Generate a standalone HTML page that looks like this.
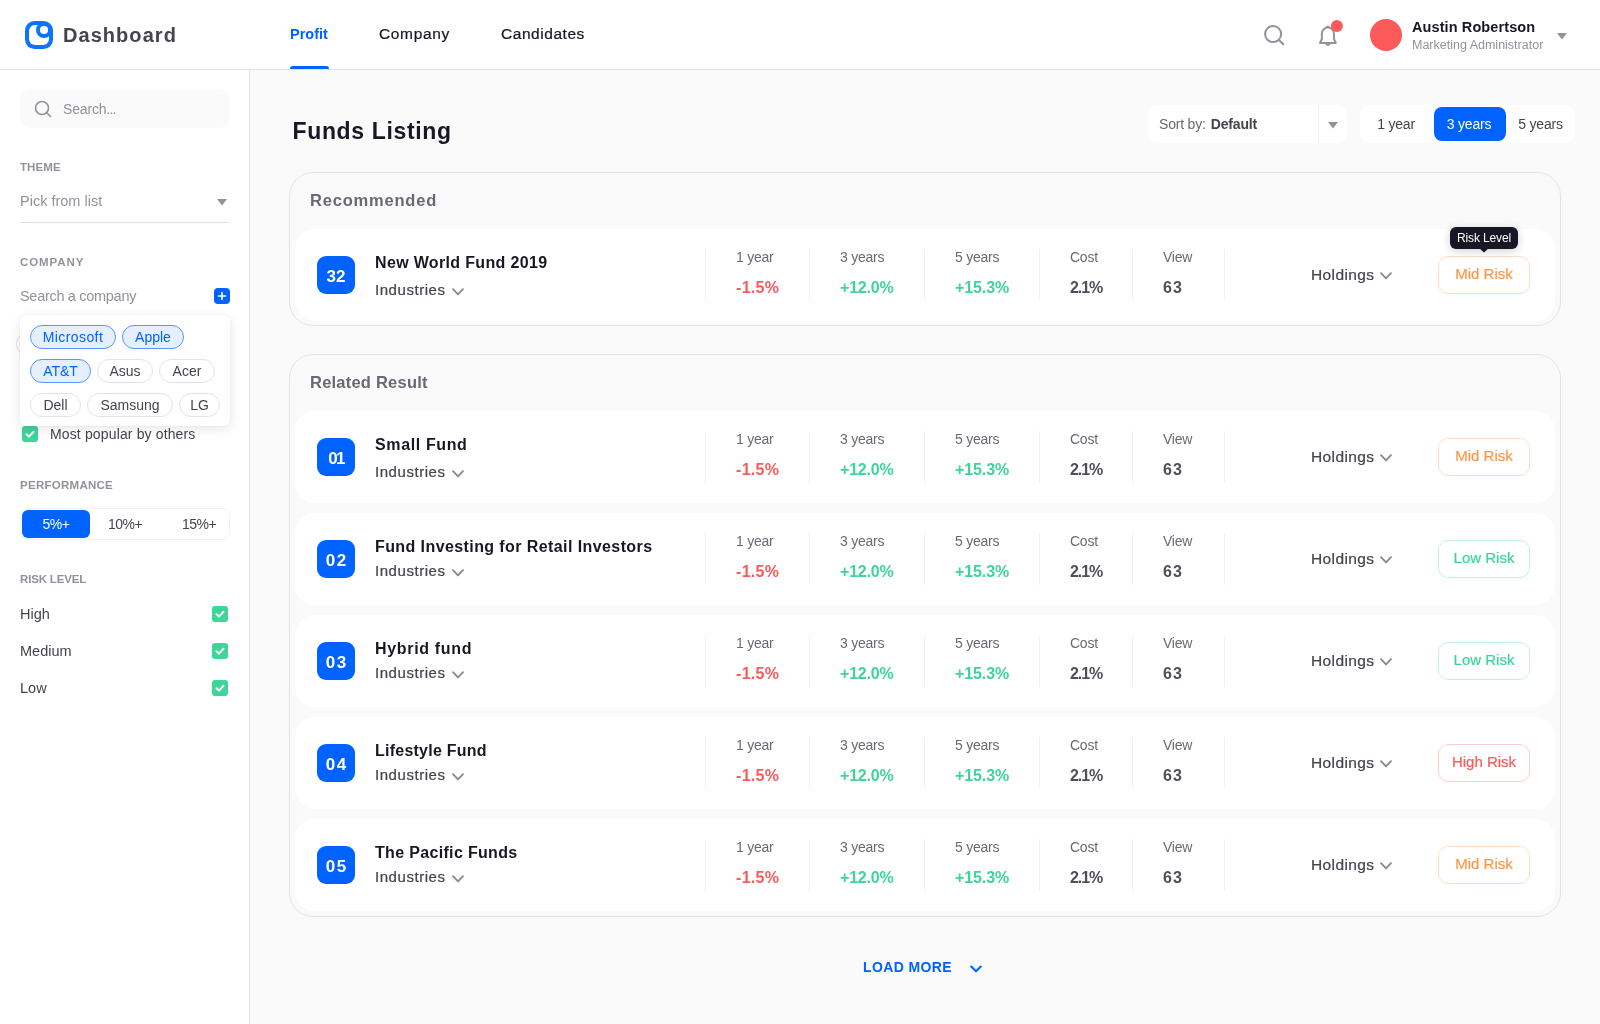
<!DOCTYPE html>
<html lang="en">
<head>
<meta charset="utf-8">
<title>Dashboard - Funds Listing</title>
<style>
*{box-sizing:border-box;margin:0;padding:0}
html,body{width:1600px;height:1024px;overflow:hidden}
body{position:relative;will-change:transform;background:#fafafb;font-family:"Liberation Sans",sans-serif;color:#171725}
.t{position:absolute;white-space:nowrap;line-height:20px;height:20px}
.m{-webkit-text-stroke:.22px currentColor}
#header{position:absolute;left:0;top:0;width:1600px;height:70px;background:#fff;border-bottom:1px solid #e2e2ea}
#sidebar{position:absolute;left:0;top:70px;width:250px;height:954px;background:#fff;border-right:1px solid #e2e2ea}
.lbl{font-size:11.5px;font-weight:700;color:#92929d}
.pill{position:absolute;height:24px;border:1px solid #e2e2ea;border-radius:12px;background:#fff;color:#44444f;font-size:14px;line-height:22.600px;text-align:center;white-space:nowrap}
.pill.on{background:#e6efff;border-color:#5b96ff;color:#0062ff}
.cb{position:absolute;width:16px;height:16px;border-radius:3px;background:#3dd598}
.cb svg{position:absolute;left:0;top:0}
.panel{position:absolute;left:289px;width:1272px;border:1px solid #e2e2ea;border-radius:24px;background:#fafafb}
.card{position:absolute;left:5px;width:1260px;height:92px;background:#fff;border-radius:20px}
.badge{position:absolute;left:22px;top:27px;width:38px;height:38px;border-radius:9px;background:#0062ff;color:#fff;font-weight:700;font-size:17px;line-height:42px;text-align:center}
.ttl{position:absolute;left:80px;font-size:16px;font-weight:700;color:#171725;line-height:20px;white-space:nowrap;letter-spacing:.3px}
.ind{position:absolute;left:80px;font-size:15px;color:#44444f;line-height:20px;white-space:nowrap;letter-spacing:.55px}
.dv{position:absolute;top:20px;width:1px;height:52px;background:#f1f1f5}
.sl{position:absolute;top:18.300px;font-size:14px;color:#696974;line-height:20px;white-space:nowrap;letter-spacing:-.25px}
.sv{position:absolute;top:48.500px;font-size:16px;font-weight:700;line-height:20px;white-space:nowrap;color:#4f4f5a}
.red{color:#fc5a5a}.grn{color:#3dd598}
.hold{position:absolute;left:1016px;top:35.600px;font-size:15.5px;color:#44444f;line-height:20px;letter-spacing:.4px}
.risk{position:absolute;left:1143px;top:27px;width:92px;height:38px;border:1px solid;border-radius:10px;font-size:15px;line-height:34px;text-align:center;background:#fff;letter-spacing:0}
.risk.mid{border-color:#ffdcc3;color:#ff974a}
.risk.low{border-color:#c4f2e0;color:#3dd598}
.risk.high{border-color:#fecdcd;color:#fc5a5a}
svg{position:absolute;overflow:visible}
</style>
</head>
<body>

<div id="header">
  <svg style="left:25px;top:21px" width="28" height="28" viewBox="0 0 28 28"><rect width="28" height="28" rx="9.5" fill="#0b74ff"/><rect x="4" y="4" width="20" height="20" rx="6" fill="#fff"/><circle cx="19" cy="9" r="8" fill="#0b74ff"/><circle cx="19" cy="9" r="4.1" fill="#fff"/></svg>
  <div class="t" style="left:63px;top:25px;font-size:20px;font-weight:700;color:#44444f;letter-spacing:1.05px">Dashboard</div>
  <div class="t" style="left:290px;top:24px;font-size:14.5px;font-weight:700;color:#0062ff;letter-spacing:0px">Profit</div>
  <div class="t m" style="left:379px;top:24px;font-size:15.5px;letter-spacing:.65px">Company</div>
  <div class="t m" style="left:501px;top:24px;font-size:15.5px;letter-spacing:.55px">Candidates</div>
  <div style="position:absolute;left:290px;top:66px;width:39px;height:3px;background:#0062ff;border-radius:3px 3px 0 0"></div>
  <svg style="left:1255px;top:15px" width="100" height="40" viewBox="0 0 100 40" fill="none" stroke="#92929d" stroke-width="2" stroke-linecap="round" stroke-linejoin="round"><circle cx="18.100" cy="19.050" r="8.050"/><path d="M24.200 25.200 L28.300 29.300"/><path d="M66.850 24 V18.650 A6.050 6.050 0 0 1 78.950 18.650 V24 L80.800 27.900 H65 Z"/><path d="M71.300 12.400 Q72.900 9.800 74.500 12.400 Z" fill="#92929d" stroke-width="1.2"/><path d="M70.700 29.200 Q72.900 32.300 75.100 29.200 Z" fill="#92929d" stroke-width="1"/><circle cx="81.900" cy="10.900" r="6" fill="#fc5a5a" stroke="none"/></svg>
  <div style="position:absolute;left:1370px;top:19px;width:32px;height:32px;border-radius:16px;background:#fc5a5a"></div>
  <div class="t" style="left:1412px;top:17px;font-size:14.5px;font-weight:700;color:#171725;letter-spacing:.1px">Austin Robertson</div>
  <div class="t" style="left:1412px;top:34.500px;font-size:12.5px;color:#92929d">Marketing Administrator</div>
  <svg style="left:1557px;top:32.500px" width="10" height="7" viewBox="0 0 10 7"><path d="M0 0 H10 L5 6.500 Z" fill="#92929d"/></svg>
</div>
<div id="sidebar">
<div style="position:absolute;left:20px;top:20px;width:210px;height:38px;border-radius:10px;background:#fafafb"></div>
<svg style="left:33px;top:29px" width="20" height="20" viewBox="0 0 20 20" fill="none" stroke="#92929d" stroke-width="1.6" stroke-linecap="round"><circle cx="9" cy="9" r="6.500"/><path d="M14 14 L17.500 17.500"/></svg>
<div class="t" style="left:63px;top:29px;font-size:14px;color:#92929d;letter-spacing:-.15px">Search<span style="letter-spacing:-.9px">...</span></div>
<div class="t lbl" style="left:20px;top:87px;letter-spacing:.1px">THEME</div>
<div class="t" style="left:20px;top:121px;font-size:14.5px;color:#92929d">Pick from list</div>
<svg style="left:217px;top:128.5px" width="10" height="7" viewBox="0 0 10 7"><path d="M0 0 H10 L5 6.500 Z" fill="#92929d"/></svg>
<div style="position:absolute;left:20px;top:152px;width:210px;height:1px;background:#e2e2ea"></div>
<div class="t lbl" style="left:20px;top:182px;letter-spacing:.9px">COMPANY</div>
<div class="t" style="left:20px;top:216px;font-size:14.5px;color:#92929d;letter-spacing:-.3px">Search a company</div>
<div style="position:absolute;left:214px;top:218px;width:16px;height:16px;border-radius:4px;background:#0062ff"></div>
<svg style="left:214px;top:218px" width="16" height="16" viewBox="0 0 16 16" stroke="#fff" stroke-width="1.6" stroke-linecap="round"><path d="M8 4.500 V11.500 M4.500 8 H11.500"/></svg>
<div class="pill" style="left:16px;top:261px;width:60px;height:26px;border-radius:13px"></div>
<div class="cb" style="left:22px;top:356px"><svg width="16" height="16" viewBox="0 0 16 16" fill="none" stroke="#fff" stroke-width="2" stroke-linecap="round" stroke-linejoin="round"><path d="M4.5 8.2 L7 10.600 L11.500 5.800"/></svg></div>
<div class="t" style="left:50px;top:354.4px;font-size:14px;color:#44444f;letter-spacing:.14px">Most popular by others</div>
<div style="position:absolute;left:20px;top:245px;width:210px;height:111px;background:#fff;border-radius:6px;box-shadow:0 3px 12px rgba(23,23,37,.10),0 0 2px rgba(23,23,37,.06)"></div>
<div class="pill on" style="left:30px;top:255px;width:86px"><span style="letter-spacing:.4px">Microsoft</span></div><div class="pill on" style="left:122px;top:255px;width:62px">Apple</div>
<div class="pill on" style="left:30px;top:289px;width:61px">AT&amp;T</div><div class="pill" style="left:97px;top:289px;width:56px">Asus</div><div class="pill" style="left:159px;top:289px;width:56px">Acer</div>
<div class="pill" style="left:30px;top:323px;width:51px">Dell</div><div class="pill" style="left:87px;top:323px;width:86px">Samsung</div><div class="pill" style="left:179px;top:323px;width:41px">LG</div>
<div class="t lbl" style="left:20px;top:405px;letter-spacing:.27px">PERFORMANCE</div>
<div style="position:absolute;left:20px;top:438px;width:210px;height:32px;border:1px solid #f1f1f5;border-radius:8px;background:#fff"></div>
<div style="position:absolute;left:22px;top:440px;width:68px;height:28px;border-radius:6px;background:#0062ff"></div>
<div class="t" style="left:22px;width:68px;text-align:center;top:444px;font-size:14px;color:#fff;letter-spacing:-.5px">5%+</div>
<div class="t" style="left:91px;width:68px;text-align:center;top:444px;font-size:14px;color:#44444f;letter-spacing:-.5px">10%+</div>
<div class="t" style="left:165px;width:68px;text-align:center;top:444px;font-size:14px;color:#44444f;letter-spacing:-.5px">15%+</div>
<div class="t lbl" style="left:20px;top:499px;letter-spacing:-.17px">RISK LEVEL</div>
<div class="t" style="left:20px;top:534px;font-size:14.5px;color:#44444f">High</div><div class="cb" style="left:212px;top:536px"><svg width="16" height="16" viewBox="0 0 16 16" fill="none" stroke="#fff" stroke-width="2" stroke-linecap="round" stroke-linejoin="round"><path d="M4.5 8.2 L7 10.600 L11.500 5.800"/></svg></div>
<div class="t" style="left:20px;top:571px;font-size:14.5px;color:#44444f">Medium</div><div class="cb" style="left:212px;top:573px"><svg width="16" height="16" viewBox="0 0 16 16" fill="none" stroke="#fff" stroke-width="2" stroke-linecap="round" stroke-linejoin="round"><path d="M4.5 8.2 L7 10.600 L11.500 5.800"/></svg></div>
<div class="t" style="left:20px;top:608px;font-size:14.5px;color:#44444f">Low</div><div class="cb" style="left:212px;top:610px"><svg width="16" height="16" viewBox="0 0 16 16" fill="none" stroke="#fff" stroke-width="2" stroke-linecap="round" stroke-linejoin="round"><path d="M4.5 8.2 L7 10.600 L11.500 5.800"/></svg></div>
</div>
<div id="main">
<div class="t" style="left:292.500px;top:115.600px;height:30px;line-height:30px;font-size:23px;font-weight:700;color:#171725;letter-spacing:.65px">Funds Listing</div>
<div style="position:absolute;left:1147px;top:105px;width:200px;height:38px;border-radius:10px;background:#fff"></div>
<div style="position:absolute;left:1318px;top:105px;width:1px;height:38px;background:#f1f1f5"></div>
<div class="t" style="left:1159px;top:114px;font-size:14px;color:#696974;letter-spacing:-.2px">Sort by: <b style="color:#44444f;margin-left:1.500px">Default</b></div>
<svg style="left:1328px;top:121.700px" width="10" height="7" viewBox="0 0 10 7"><path d="M0 0 H10 L5 6.500 Z" fill="#92929d"/></svg>
<div style="position:absolute;left:1360px;top:105px;width:215px;height:38px;border-radius:10px;background:#fff"></div>
<div style="position:absolute;left:1434px;top:107px;width:72px;height:34px;border-radius:8px;background:#0062ff"></div>
<div class="t" style="left:1362px;width:68px;text-align:center;top:114px;font-size:14px;color:#44444f;letter-spacing:-.2px">1 year</div>
<div class="t" style="left:1433px;width:72px;text-align:center;top:114px;font-size:14px;color:#fff;letter-spacing:-.2px">3 years</div>
<div class="t" style="left:1506px;width:69px;text-align:center;top:114px;font-size:14px;color:#44444f;letter-spacing:-.2px">5 years</div>
<div class="panel" style="top:172px;height:154px">
<div class="t" style="left:20px;top:17px;font-size:16.5px;font-weight:700;color:#696974;letter-spacing:.8px">Recommended</div>
<div class="card" style="top:56px"><div class="badge" style="letter-spacing:0px;padding-left:0px">32</div><div class="ttl" style="top:24px;letter-spacing:0.34px">New World Fund 2019</div><div class="ind m" style="top:51px">Industries</div><svg style="left:157px;top:58.6px" width="12" height="8" viewBox="0 0 12 8" fill="none" stroke="#8a8a96" stroke-width="1.9" stroke-linecap="round" stroke-linejoin="round"><path d="M1 1.200 L6 6.400 L11 1.200"/></svg><div class="dv" style="left:410px"></div><div class="dv" style="left:514px"></div><div class="dv" style="left:629px"></div><div class="dv" style="left:744px"></div><div class="dv" style="left:837px"></div><div class="dv" style="left:929px"></div><div class="sl" style="left:441px">1 year</div><div class="sv red" style="left:441px;letter-spacing:0.3px">-1.5%</div><div class="sl" style="left:545px">3 years</div><div class="sv grn" style="left:545px;letter-spacing:-0.2px">+12.0%</div><div class="sl" style="left:660px">5 years</div><div class="sv grn" style="left:660px;letter-spacing:-0.1px">+15.3%</div><div class="sl" style="left:775px">Cost</div><div class="sv " style="left:775px;letter-spacing:-1.1px">2.1%</div><div class="sl" style="left:868px">View</div><div class="sv " style="left:868px;letter-spacing:1.1px">63</div><div class="hold m">Holdings</div><svg style="left:1085.2px;top:42.5px" width="12" height="8" viewBox="0 0 12 8" fill="none" stroke="#8a8a96" stroke-width="1.9" stroke-linecap="round" stroke-linejoin="round"><path d="M1 1.200 L6 6.400 L11 1.200"/></svg><div class="risk mid m">Mid Risk</div></div>
<div style="position:absolute;left:1160px;top:54px;width:68px;height:22px;border-radius:6px;background:#171725;color:#fff;font-size:12px;letter-spacing:-.15px;line-height:22px;text-align:center;box-shadow:0 2px 8px rgba(23,23,37,.2)">Risk Level</div><svg style="left:1189px;top:75px" width="10" height="5" viewBox="0 0 10 5"><path d="M0 0 H10 L5 4.500 Z" fill="#171725"/></svg>
</div>
<div class="panel" style="top:354px;height:563px">
<div class="t" style="left:20px;top:17px;font-size:16.5px;font-weight:700;color:#696974;letter-spacing:.22px">Related Result</div>
<div class="card" style="top:56px"><div class="badge" style="letter-spacing:-1.6px;padding-left:-1.6px">01</div><div class="ttl" style="top:24px;letter-spacing:0.63px">Small Fund</div><div class="ind m" style="top:51px">Industries</div><svg style="left:157px;top:58.6px" width="12" height="8" viewBox="0 0 12 8" fill="none" stroke="#8a8a96" stroke-width="1.9" stroke-linecap="round" stroke-linejoin="round"><path d="M1 1.200 L6 6.400 L11 1.200"/></svg><div class="dv" style="left:410px"></div><div class="dv" style="left:514px"></div><div class="dv" style="left:629px"></div><div class="dv" style="left:744px"></div><div class="dv" style="left:837px"></div><div class="dv" style="left:929px"></div><div class="sl" style="left:441px">1 year</div><div class="sv red" style="left:441px;letter-spacing:0.3px">-1.5%</div><div class="sl" style="left:545px">3 years</div><div class="sv grn" style="left:545px;letter-spacing:-0.2px">+12.0%</div><div class="sl" style="left:660px">5 years</div><div class="sv grn" style="left:660px;letter-spacing:-0.1px">+15.3%</div><div class="sl" style="left:775px">Cost</div><div class="sv " style="left:775px;letter-spacing:-1.1px">2.1%</div><div class="sl" style="left:868px">View</div><div class="sv " style="left:868px;letter-spacing:1.1px">63</div><div class="hold m">Holdings</div><svg style="left:1085.2px;top:42.5px" width="12" height="8" viewBox="0 0 12 8" fill="none" stroke="#8a8a96" stroke-width="1.9" stroke-linecap="round" stroke-linejoin="round"><path d="M1 1.200 L6 6.400 L11 1.200"/></svg><div class="risk mid m">Mid Risk</div></div>
<div class="card" style="top:158px"><div class="badge" style="letter-spacing:1.5px;padding-left:1.5px">02</div><div class="ttl" style="top:24px;letter-spacing:0.41px">Fund Investing for Retail Investors</div><div class="ind m" style="top:48px">Industries</div><svg style="left:157px;top:55.6px" width="12" height="8" viewBox="0 0 12 8" fill="none" stroke="#8a8a96" stroke-width="1.9" stroke-linecap="round" stroke-linejoin="round"><path d="M1 1.200 L6 6.400 L11 1.200"/></svg><div class="dv" style="left:410px"></div><div class="dv" style="left:514px"></div><div class="dv" style="left:629px"></div><div class="dv" style="left:744px"></div><div class="dv" style="left:837px"></div><div class="dv" style="left:929px"></div><div class="sl" style="left:441px">1 year</div><div class="sv red" style="left:441px;letter-spacing:0.3px">-1.5%</div><div class="sl" style="left:545px">3 years</div><div class="sv grn" style="left:545px;letter-spacing:-0.2px">+12.0%</div><div class="sl" style="left:660px">5 years</div><div class="sv grn" style="left:660px;letter-spacing:-0.1px">+15.3%</div><div class="sl" style="left:775px">Cost</div><div class="sv " style="left:775px;letter-spacing:-1.1px">2.1%</div><div class="sl" style="left:868px">View</div><div class="sv " style="left:868px;letter-spacing:1.1px">63</div><div class="hold m">Holdings</div><svg style="left:1085.2px;top:42.5px" width="12" height="8" viewBox="0 0 12 8" fill="none" stroke="#8a8a96" stroke-width="1.9" stroke-linecap="round" stroke-linejoin="round"><path d="M1 1.200 L6 6.400 L11 1.200"/></svg><div class="risk low m">Low Risk</div></div>
<div class="card" style="top:260px"><div class="badge" style="letter-spacing:1.5px;padding-left:1.5px">03</div><div class="ttl" style="top:24px;letter-spacing:0.67px">Hybrid fund</div><div class="ind m" style="top:48px">Industries</div><svg style="left:157px;top:55.6px" width="12" height="8" viewBox="0 0 12 8" fill="none" stroke="#8a8a96" stroke-width="1.9" stroke-linecap="round" stroke-linejoin="round"><path d="M1 1.200 L6 6.400 L11 1.200"/></svg><div class="dv" style="left:410px"></div><div class="dv" style="left:514px"></div><div class="dv" style="left:629px"></div><div class="dv" style="left:744px"></div><div class="dv" style="left:837px"></div><div class="dv" style="left:929px"></div><div class="sl" style="left:441px">1 year</div><div class="sv red" style="left:441px;letter-spacing:0.3px">-1.5%</div><div class="sl" style="left:545px">3 years</div><div class="sv grn" style="left:545px;letter-spacing:-0.2px">+12.0%</div><div class="sl" style="left:660px">5 years</div><div class="sv grn" style="left:660px;letter-spacing:-0.1px">+15.3%</div><div class="sl" style="left:775px">Cost</div><div class="sv " style="left:775px;letter-spacing:-1.1px">2.1%</div><div class="sl" style="left:868px">View</div><div class="sv " style="left:868px;letter-spacing:1.1px">63</div><div class="hold m">Holdings</div><svg style="left:1085.2px;top:42.5px" width="12" height="8" viewBox="0 0 12 8" fill="none" stroke="#8a8a96" stroke-width="1.9" stroke-linecap="round" stroke-linejoin="round"><path d="M1 1.200 L6 6.400 L11 1.200"/></svg><div class="risk low m">Low Risk</div></div>
<div class="card" style="top:362px"><div class="badge" style="letter-spacing:1.5px;padding-left:1.5px">04</div><div class="ttl" style="top:24px;letter-spacing:0.24px">Lifestyle Fund</div><div class="ind m" style="top:48px">Industries</div><svg style="left:157px;top:55.6px" width="12" height="8" viewBox="0 0 12 8" fill="none" stroke="#8a8a96" stroke-width="1.9" stroke-linecap="round" stroke-linejoin="round"><path d="M1 1.200 L6 6.400 L11 1.200"/></svg><div class="dv" style="left:410px"></div><div class="dv" style="left:514px"></div><div class="dv" style="left:629px"></div><div class="dv" style="left:744px"></div><div class="dv" style="left:837px"></div><div class="dv" style="left:929px"></div><div class="sl" style="left:441px">1 year</div><div class="sv red" style="left:441px;letter-spacing:0.3px">-1.5%</div><div class="sl" style="left:545px">3 years</div><div class="sv grn" style="left:545px;letter-spacing:-0.2px">+12.0%</div><div class="sl" style="left:660px">5 years</div><div class="sv grn" style="left:660px;letter-spacing:-0.1px">+15.3%</div><div class="sl" style="left:775px">Cost</div><div class="sv " style="left:775px;letter-spacing:-1.1px">2.1%</div><div class="sl" style="left:868px">View</div><div class="sv " style="left:868px;letter-spacing:1.1px">63</div><div class="hold m">Holdings</div><svg style="left:1085.2px;top:42.5px" width="12" height="8" viewBox="0 0 12 8" fill="none" stroke="#8a8a96" stroke-width="1.9" stroke-linecap="round" stroke-linejoin="round"><path d="M1 1.200 L6 6.400 L11 1.200"/></svg><div class="risk high m">High Risk</div></div>
<div class="card" style="top:464px"><div class="badge" style="letter-spacing:1.5px;padding-left:1.5px">05</div><div class="ttl" style="top:24px;letter-spacing:0.33px">The Pacific Funds</div><div class="ind m" style="top:48px">Industries</div><svg style="left:157px;top:55.6px" width="12" height="8" viewBox="0 0 12 8" fill="none" stroke="#8a8a96" stroke-width="1.9" stroke-linecap="round" stroke-linejoin="round"><path d="M1 1.200 L6 6.400 L11 1.200"/></svg><div class="dv" style="left:410px"></div><div class="dv" style="left:514px"></div><div class="dv" style="left:629px"></div><div class="dv" style="left:744px"></div><div class="dv" style="left:837px"></div><div class="dv" style="left:929px"></div><div class="sl" style="left:441px">1 year</div><div class="sv red" style="left:441px;letter-spacing:0.3px">-1.5%</div><div class="sl" style="left:545px">3 years</div><div class="sv grn" style="left:545px;letter-spacing:-0.2px">+12.0%</div><div class="sl" style="left:660px">5 years</div><div class="sv grn" style="left:660px;letter-spacing:-0.1px">+15.3%</div><div class="sl" style="left:775px">Cost</div><div class="sv " style="left:775px;letter-spacing:-1.1px">2.1%</div><div class="sl" style="left:868px">View</div><div class="sv " style="left:868px;letter-spacing:1.1px">63</div><div class="hold m">Holdings</div><svg style="left:1085.2px;top:42.5px" width="12" height="8" viewBox="0 0 12 8" fill="none" stroke="#8a8a96" stroke-width="1.9" stroke-linecap="round" stroke-linejoin="round"><path d="M1 1.200 L6 6.400 L11 1.200"/></svg><div class="risk mid m">Mid Risk</div></div>
</div>
<div class="t" style="left:863px;top:957.300px;font-size:14px;font-weight:700;color:#0062ff;letter-spacing:.38px">LOAD MORE</div>
<svg style="left:970px;top:965px" width="12" height="8" viewBox="0 0 12 8" fill="none" stroke="#0062ff" stroke-width="2" stroke-linecap="round" stroke-linejoin="round"><path d="M1.200 1.500 L6 6.300 L10.800 1.500"/></svg>
</div>
</body>
</html>
